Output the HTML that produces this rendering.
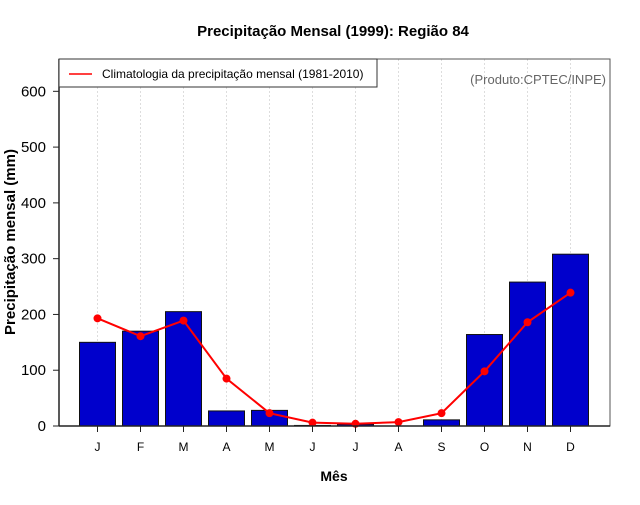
<!DOCTYPE html>
<html><head><meta charset="utf-8"><style>
body{margin:0;background:#fff}
text{font-family:"Liberation Sans",sans-serif}
</style></head><body>
<svg id="chart" width="640" height="500" xmlns="http://www.w3.org/2000/svg">
<rect width="640" height="500" fill="#fff"/>
<text x="333" y="36" text-anchor="middle" font-size="15" font-weight="bold">Precipitação Mensal (1999): Região 84</text>
<g id="grid"></g>
<g id="bars"></g>
<g id="line"></g>
<rect x="59" y="59" width="551" height="367" fill="none" stroke="#555" stroke-width="1"/>
<line x1="59" y1="59" x2="59" y2="426" stroke="#222" stroke-width="1.5"/>
<line x1="59" y1="426" x2="610" y2="426" stroke="#222" stroke-width="1.5"/>
<g id="yaxis"></g>
<g id="xaxis"></g>
<text transform="translate(15,242) rotate(-90)" text-anchor="middle" font-size="15" font-weight="bold">Precipitação mensal (mm)</text>
<text x="334" y="481" text-anchor="middle" font-size="14" font-weight="bold">Mês</text>
<g>
<rect x="59" y="59" width="318" height="28" fill="#fff" stroke="#333"/>
<line x1="69" y1="74" x2="92" y2="74" stroke="red" stroke-width="1.5"/>
<text x="102" y="78" font-size="12">Climatologia da precipitação mensal (1981-2010)</text>
</g>
<text x="606" y="84" text-anchor="end" font-size="13" fill="#666">(Produto:CPTEC/INPE)</text>
</svg>
<script>
const months=["J","F","M","A","M","J","J","A","S","O","N","D"];
const observed=[150,170,205,27,28,1,3,0,11,164,258,308];
const climatology=[193,161,189,85,23,6,4,7,23,98,186,239];
const yTicks=[0,100,200,300,400,500,600];
const NS="http://www.w3.org/2000/svg";
function xS(i){return 97.5+43*i;}
function yS(v){return 426-v*0.5578;}
function mk(t,a,p){const e=document.createElementNS(NS,t);for(const k in a)e.setAttribute(k,a[k]);p.appendChild(e);return e;}
const grid=document.getElementById('grid'),bars=document.getElementById('bars'),line=document.getElementById('line'),ya=document.getElementById('yaxis'),xa=document.getElementById('xaxis');
months.forEach((m,i)=>{
 const g=mk('line',{x1:xS(i),x2:xS(i),y1:59,y2:426,stroke:'#ddd','stroke-dasharray':'2,2'},grid);
 
 
 const b=mk('rect',{x:xS(i)-18,y:yS(observed[i]),width:36,height:Math.max(0,426-yS(observed[i])),fill:'#0000cc',stroke:'#111','stroke-width':1},bars);
 
 
 const t=mk('line',{x1:xS(i),x2:xS(i),y1:426,y2:432,stroke:'#222'},xa);
 
 
 const l=mk('text',{x:xS(i),y:451,'text-anchor':'middle','font-size':12},xa);
 l.textContent=m;
 
 
});
const pl=mk('polyline',{points:climatology.map((v,i)=>xS(i)+','+yS(v)).join(' '),fill:'none',stroke:'red','stroke-width':2},line);


climatology.forEach((v,i)=>{
 const c=mk('circle',{cx:xS(i),cy:yS(v),r:4,fill:'red'},line);
 
 
});
yTicks.forEach(v=>{
 const t=mk('line',{x1:53,x2:59,y1:yS(v),y2:yS(v),stroke:'#222'},ya);
 
 
 const l=mk('text',{x:46,y:yS(v)+5,'text-anchor':'end','font-size':15},ya);
 l.textContent=v;
 
 
});
</script>
</body></html>
